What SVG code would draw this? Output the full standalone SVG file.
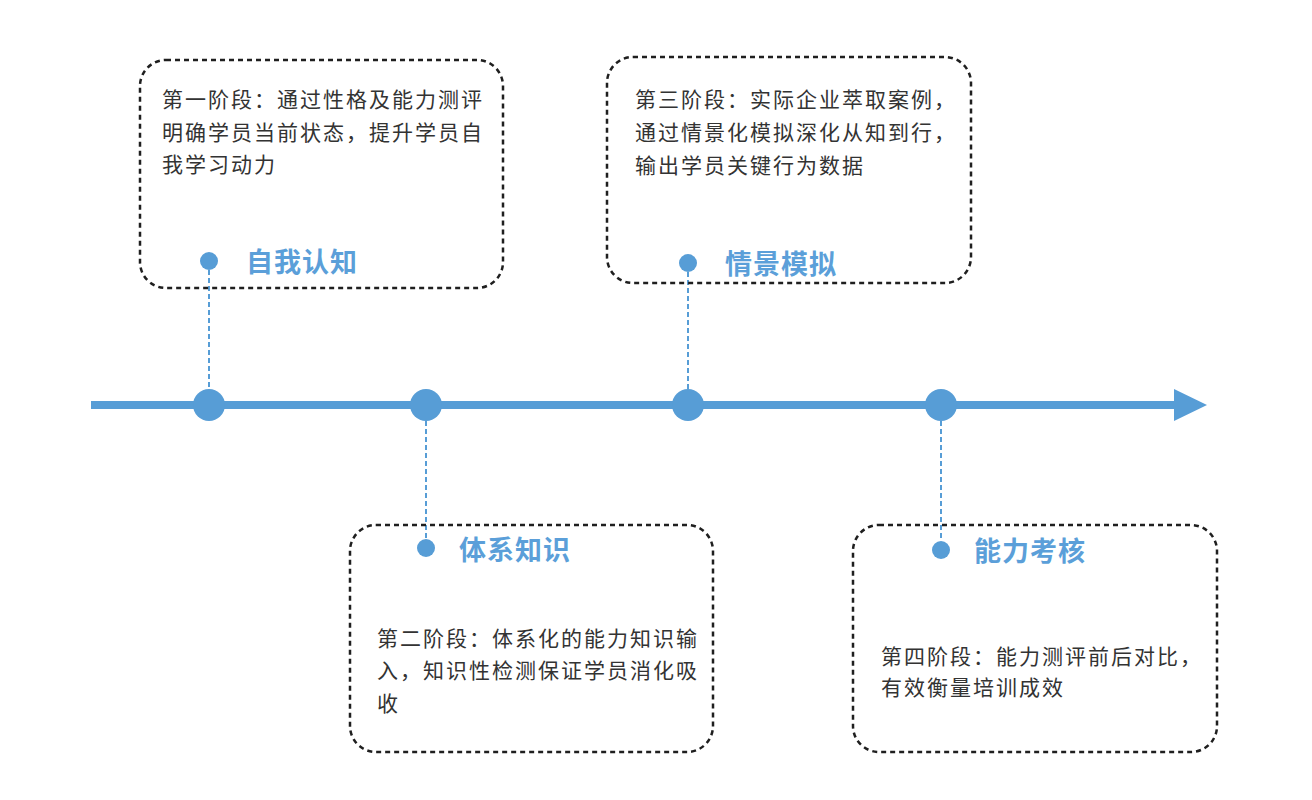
<svg xmlns="http://www.w3.org/2000/svg" width="1312" height="800" viewBox="0 0 1312 800">
<style>
.box{fill:none;stroke:#1f1f1f;stroke-width:2.5;stroke-dasharray:5 4}
.desc{font-family:"Noto Sans CJK SC","Noto Sans",sans-serif;font-size:21px;letter-spacing:2px;fill:#333}
.title{font-family:"Noto Sans CJK SC","Noto Sans",sans-serif;font-size:27px;letter-spacing:1px;font-weight:bold;fill:#5b9fd9}
.dot{fill:#579dd6}
.conn{stroke:#579dd6;stroke-width:2;stroke-dasharray:5 3;fill:none}
</style>
<rect width="1312" height="800" fill="#fff"/>
<g id="timeline">
<line x1="91" y1="405" x2="1178" y2="405" stroke="#579dd6" stroke-width="8"/>
<polygon points="1174,389 1207,405 1174,421" fill="#579dd6"/>
<circle class="dot" cx="209" cy="405" r="16"/>
<circle class="dot" cx="426" cy="405" r="16"/>
<circle class="dot" cx="688" cy="405" r="16"/>
<circle class="dot" cx="941" cy="405" r="16"/>
</g>
<g id="connectors">
<line class="conn" x1="209" y1="270" x2="209" y2="389"/>
<line class="conn" x1="426" y1="421" x2="426" y2="540"/>
<line class="conn" x1="688" y1="272" x2="688" y2="389"/>
<line class="conn" x1="941" y1="421" x2="941" y2="541"/>
</g>
<g id="stage1">
<rect class="box" x="140" y="60" width="363" height="228" rx="26"/>
<text class="desc" x="162" y="107">第一阶段：通过性格及能力测评</text>
<text class="desc" x="162" y="140">明确学员当前状态，提升学员自</text>
<text class="desc" x="162" y="172">我学习动力</text>
<circle class="dot" cx="209" cy="261" r="9"/>
<text class="title" x="246" y="272">自我认知</text>
</g>
<g id="stage2">
<rect class="box" x="350" y="525" width="363" height="227" rx="26"/>
<circle class="dot" cx="426" cy="548" r="9"/>
<text class="title" x="459" y="560">体系知识</text>
<text class="desc" x="377" y="646">第二阶段：体系化的能力知识输</text>
<text class="desc" x="377" y="678">入，知识性检测保证学员消化吸</text>
<text class="desc" x="377" y="711">收</text>
</g>
<g id="stage3">
<rect class="box" x="607" y="57" width="364" height="226" rx="26"/>
<text class="desc" x="635" y="107">第三阶段：实际企业萃取案例，</text>
<text class="desc" x="635" y="140">通过情景化模拟深化从知到行，</text>
<text class="desc" x="635" y="173">输出学员关键行为数据</text>
<circle class="dot" cx="688" cy="263" r="9"/>
<text class="title" x="725" y="274">情景模拟</text>
</g>
<g id="stage4">
<rect class="box" x="853" y="525" width="364" height="227" rx="26"/>
<circle class="dot" cx="941" cy="550" r="9"/>
<text class="title" x="974" y="561">能力考核</text>
<text class="desc" x="881" y="664">第四阶段：能力测评前后对比，</text>
<text class="desc" x="881" y="695">有效衡量培训成效</text>
</g>
</svg>
